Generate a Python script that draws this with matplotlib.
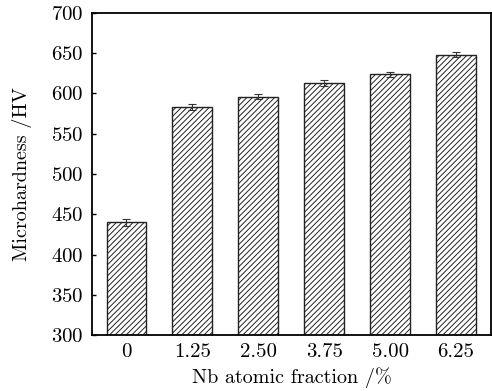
import numpy as np
import matplotlib.pyplot as plt

plt.rcParams['font.family'] = ['cmr10', 'DejaVu Serif']
plt.rcParams['axes.formatter.use_mathtext'] = True
plt.rcParams['hatch.color'] = '#444444'
plt.rcParams['hatch.linewidth'] = 0.7

# data
fractions = ['0', '1.25', '2.50', '3.75', '5.00', '6.25']
hardness = [440, 583, 596, 613, 624, 648]
errors = [4, 4, 3, 4, 3, 3]

fig = plt.figure(figsize=(4.92, 3.91), dpi=100)
ax = fig.add_axes([0.187, 0.143, 0.811, 0.824])

x = np.arange(len(fractions))
ax.bar(x, hardness, width=0.6, color='white', edgecolor='#222222',
       linewidth=1.0, hatch='//////', zorder=2)
ax.errorbar(x, hardness, yerr=errors, fmt='none', ecolor='#333333',
            elinewidth=0.8, capsize=3, capthick=0.8, zorder=3)

ax.set_xlim(-0.52, 5.53)
ax.set_ylim(300, 700)
ax.set_yticks(np.arange(300, 701, 50))
ax.set_xticks(x)
ax.set_xticklabels(fractions)
ax.tick_params(direction='in', length=3, width=1, labelsize=15, pad=6)
for s in ax.spines.values():
    s.set_linewidth(1.3)

ax.set_xlabel('Nb atomic fraction /%', fontsize=14.5, labelpad=4)
ax.set_ylabel('Microhardness /HV', fontsize=14.5, labelpad=14)

fig.savefig('out.png', dpi=100)
